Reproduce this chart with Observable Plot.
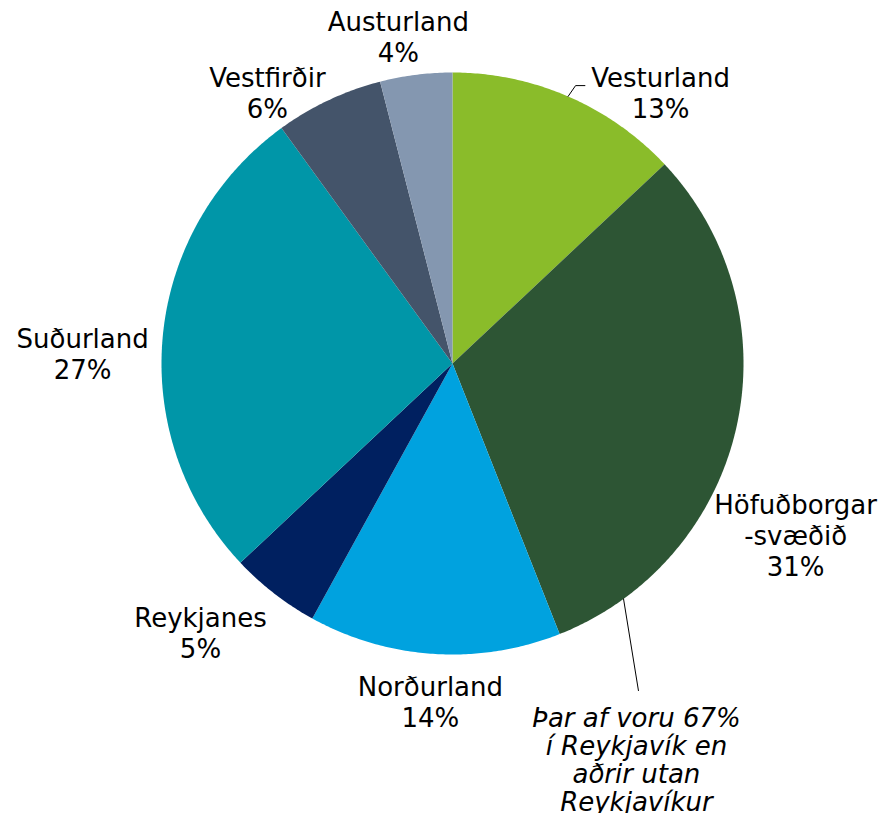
<!DOCTYPE html>
<html>
<head>
<meta charset="utf-8">
<script src="https://cdn.jsdelivr.net/npm/d3@7"></script>
<script src="https://cdn.jsdelivr.net/npm/@observablehq/plot@0.6"></script>
<style>
  html, body { margin: 0; padding: 0; background: #fff; }
  #chart svg { display: block; }
</style>
</head>
<body>
<div id="chart"></div>
<script>
// ---- data ----
const regions = ["Vesturland", "Höfuðborgarsvæðið", "Norðurland", "Reykjanes", "Suðurland", "Vestfirðir", "Austurland"];
const labelNames = ["Vesturland", "Höfuðborgar\n-svæðið", "Norðurland", "Reykjanes", "Suðurland", "Vestfirðir", "Austurland"];
const shares = [13, 31, 14, 5, 27, 6, 4];
const colors = ["#8abc2a", "#2d5534", "#00a2df", "#002060", "#0096a8", "#44546a", "#8497b0"];
const noteText = "Þar af voru 67%\ní Reykjavík en\naðrir utan\nReykjavíkur";

// ---- layout (unit-circle coordinates, radius = 1) ----
const labelPos = {
  "Vesturland": [0.715, 0.931],
  "Höfuðborgarsvæðið": [1.179, -0.59],
  "Norðurland": [-0.076, -1.162],
  "Reykjanes": [-0.866, -0.925],
  "Suðurland": [-1.271, 0.034],
  "Vestfirðir": [-0.636, 0.931],
  "Austurland": [-0.186, 1.124]
};
const W = 883, H = 813, cx = 452, cy = 363, R = 291;

// ---- build slice polygons ----
const total = d3.sum(shares);
let cum = 0;
const slicePts = [];
const slices = regions.map((r, i) => {
  const a0 = cum / total * 2 * Math.PI;
  cum += shares[i];
  const a1 = cum / total * 2 * Math.PI;
  slicePts.push({region: r, x: 0, y: 0});
  const n = Math.max(2, Math.ceil((a1 - a0) / (Math.PI / 360)));
  for (let k = 0; k <= n; k++) {
    const a = a0 + (a1 - a0) * k / n;
    slicePts.push({region: r, x: Math.sin(a), y: Math.cos(a)});
  }
  return {region: r, a0, a1, mid: (a0 + a1) / 2, share: shares[i], label: labelNames[i]};
});

const labels = slices.map(s => ({
  text: s.label + "\n" + s.share + "%",
  x: labelPos[s.region][0],
  y: labelPos[s.region][1]
}));

// leader line for Vesturland (from slice edge at mid-angle)
const vest = slices[0];
const leader1 = [
  {x: Math.sin(vest.mid), y: Math.cos(vest.mid)},
  {x: 0.423, y: 0.955},
  {x: 0.455, y: 0.955}
];
// leader for note (from Höfuðborgarsvæðið edge)
const na = 144 / 180 * Math.PI;
const leader2 = [
  {x: Math.sin(na), y: Math.cos(na)},
  {x: 0.639, y: -1.124}
];

const plot = Plot.plot({
  width: W,
  height: H,
  margin: 0,
  x: {domain: [-cx / R, (W - cx) / R], axis: null},
  y: {domain: [-(H - cy) / R, cy / R], axis: null},
  color: {domain: regions, range: colors},
  style: {fontFamily: "'DejaVu Sans', Verdana, sans-serif", background: "#fff"},
  marks: [
    Plot.line(slicePts, {x: "x", y: "y", z: "region", fill: "region", stroke: "none", curve: "linear"}),
    Plot.line(leader1, {x: "x", y: "y", stroke: "#000", strokeWidth: 1}),
    Plot.line(leader2, {x: "x", y: "y", stroke: "#000", strokeWidth: 1}),
    Plot.text(labels, {x: "x", y: "y", text: "text", fontSize: 26, lineHeight: 1.2, fill: "#000", textAnchor: "middle"}),
    Plot.text([{x: 0.632, y: -1.362, t: noteText}], {x: "x", y: "y", text: "t", fontSize: 26, fontStyle: "italic", lineHeight: 1.08, fill: "#000", textAnchor: "middle"})
  ]
});
document.getElementById("chart").appendChild(plot);
</script>
</body>
</html>
